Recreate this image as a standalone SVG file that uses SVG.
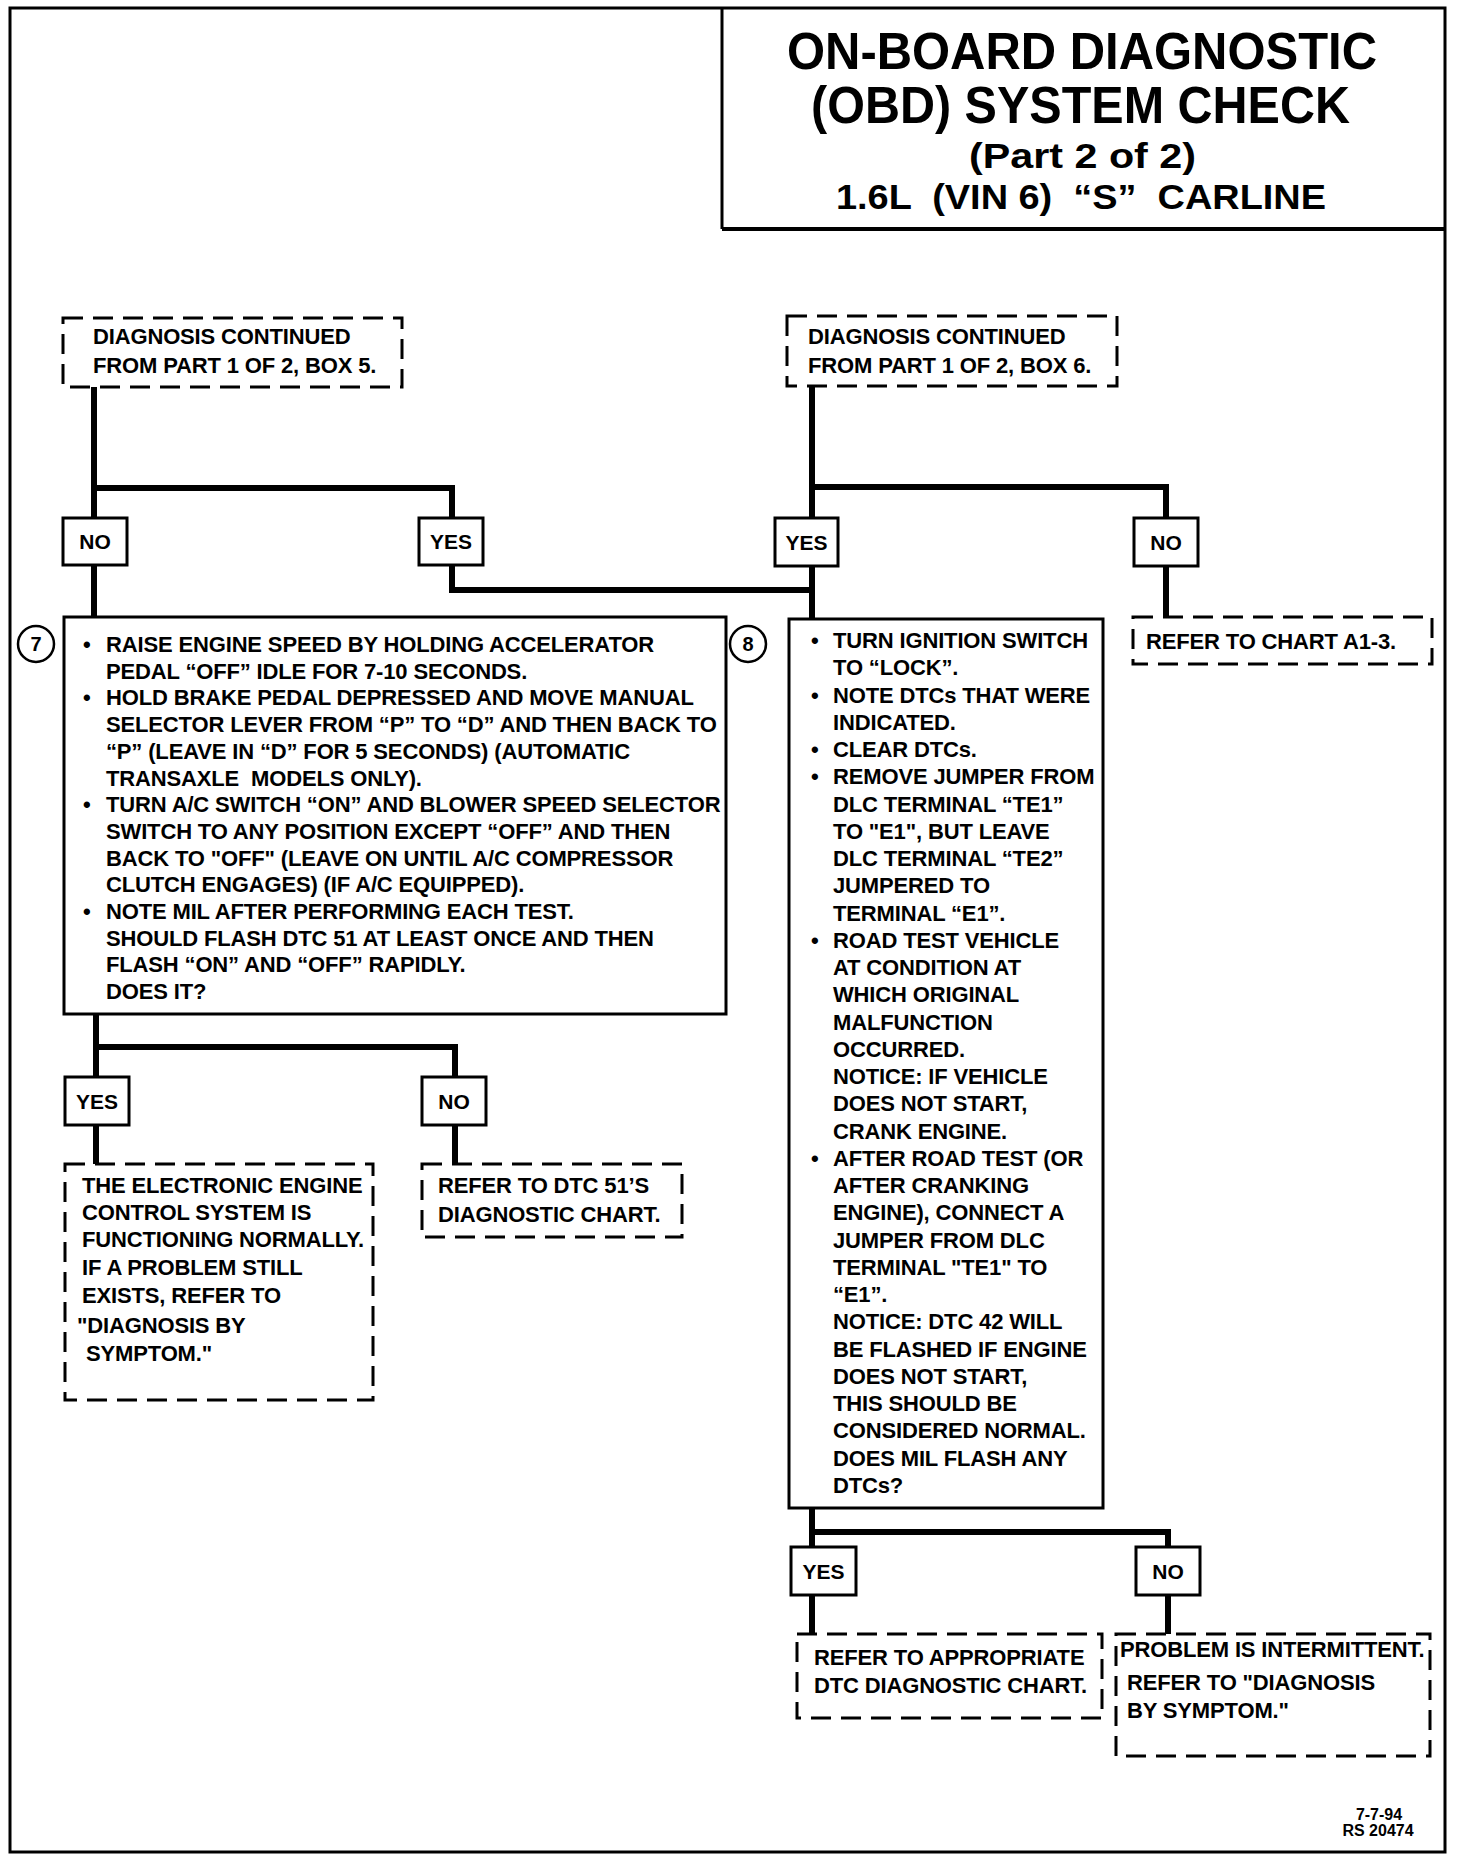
<svg xmlns="http://www.w3.org/2000/svg" width="1472" height="1864" viewBox="0 0 1472 1864">
<style>
.t{font-family:"Liberation Sans",Arial,sans-serif;font-weight:bold;font-size:22px;letter-spacing:-0.15px;fill:#000;white-space:pre}
.yn{font-family:"Liberation Sans",Arial,sans-serif;font-weight:bold;font-size:21px;fill:#000;text-anchor:middle}
.ttl{font-family:"Liberation Sans",Arial,sans-serif;font-weight:bold;fill:#000;white-space:pre}
.box{fill:#fff;stroke:#000;stroke-width:3}
.dash{fill:#fff;stroke:#000;stroke-width:3;stroke-dasharray:20 10}
.conn{fill:none;stroke:#000;stroke-width:6;stroke-linejoin:miter}
.circ{fill:#fff;stroke:#000;stroke-width:2.5}
.num{font-family:"Liberation Sans",Arial,sans-serif;font-weight:bold;font-size:20px;fill:#000;text-anchor:middle}
.ft{font-family:"Liberation Sans",Arial,sans-serif;font-weight:bold;font-size:16px;fill:#000;text-anchor:middle}
</style>
<rect x="0" y="0" width="1472" height="1864" fill="#fff"/>
<rect x="10" y="8" width="1435" height="1844" fill="none" stroke="#000" stroke-width="3"/>
<g id="title">
<line x1="722" y1="8" x2="722" y2="229" stroke="#000" stroke-width="3"/>
<line x1="722" y1="229" x2="1445" y2="229" stroke="#000" stroke-width="4"/>
<text class="ttl" x="787" y="69" font-size="52" textLength="590" lengthAdjust="spacingAndGlyphs">ON-BOARD DIAGNOSTIC</text>
<text class="ttl" x="811" y="123" font-size="52" textLength="539" lengthAdjust="spacingAndGlyphs">(OBD) SYSTEM CHECK</text>
<text class="ttl" x="969" y="168" font-size="35" textLength="227" lengthAdjust="spacingAndGlyphs">(Part 2 of 2)</text>
<text class="ttl" x="836" y="209" font-size="35" textLength="490" lengthAdjust="spacingAndGlyphs" xml:space="preserve">1.6L  (VIN 6)  “S”  CARLINE</text>
</g>
<g id="connectors">
<path class="conn" d="M94 386 V518"/>
<path class="conn" d="M94 488 H452 V518"/>
<path class="conn" d="M94 565 V617"/>
<path class="conn" d="M452 565 V590 H812"/>
<path class="conn" d="M812 386 V619"/>
<path class="conn" d="M812 487 H1166 V518"/>
<path class="conn" d="M1166 566 V618"/>
<path class="conn" d="M96 1014 V1164"/>
<path class="conn" d="M96 1047 H455 V1164"/>
<path class="conn" d="M812 1508 V1634"/>
<path class="conn" d="M812 1532 H1168 V1634"/>
</g>
<g id="boxA">
<rect class="dash" x="63" y="318" width="339" height="69"/>
<text class="t" x="93" y="344">DIAGNOSIS CONTINUED</text>
<text class="t" x="93" y="373">FROM PART 1 OF 2, BOX 5.</text>
</g>
<g id="boxB">
<rect class="dash" x="787" y="316" width="330" height="70"/>
<text class="t" x="808" y="344">DIAGNOSIS CONTINUED</text>
<text class="t" x="808" y="373">FROM PART 1 OF 2, BOX 6.</text>
</g>
<g id="noA"><rect class="box" x="63" y="518" width="64" height="47"/><text class="yn" x="95" y="549">NO</text></g>
<g id="yesA"><rect class="box" x="419" y="518" width="64" height="47"/><text class="yn" x="451" y="549">YES</text></g>
<g id="yesB"><rect class="box" x="775" y="518" width="63" height="48"/><text class="yn" x="806.5" y="550">YES</text></g>
<g id="noB"><rect class="box" x="1134" y="518" width="64" height="48"/><text class="yn" x="1166" y="550">NO</text></g>
<g id="refA13">
<rect class="dash" x="1133" y="617" width="299" height="47"/>
<text class="t" x="1146" y="649">REFER TO CHART A1-3.</text>
</g>
<g id="box7">
<circle class="circ" cx="36" cy="644" r="18"/>
<text class="num" x="36" y="651">7</text>
<rect class="box" x="64" y="617" width="662" height="397"/>
<text class="t" x="83" y="652">•</text>
<text class="t" x="106" y="652">RAISE ENGINE SPEED BY HOLDING ACCELERATOR</text>
<text class="t" x="106" y="678.7">PEDAL “OFF” IDLE FOR 7-10 SECONDS.</text>
<text class="t" x="83" y="705.4">•</text>
<text class="t" x="106" y="705.4">HOLD BRAKE PEDAL DEPRESSED AND MOVE MANUAL</text>
<text class="t" x="106" y="732.1">SELECTOR LEVER FROM “P” TO “D” AND THEN BACK TO</text>
<text class="t" x="106" y="758.8">“P” (LEAVE IN “D” FOR 5 SECONDS) (AUTOMATIC</text>
<text class="t" x="106" y="785.5" xml:space="preserve">TRANSAXLE  MODELS ONLY).</text>
<text class="t" x="83" y="812.2">•</text>
<text class="t" x="106" y="812.2">TURN A/C SWITCH “ON” AND BLOWER SPEED SELECTOR</text>
<text class="t" x="106" y="838.9">SWITCH TO ANY POSITION EXCEPT “OFF” AND THEN</text>
<text class="t" x="106" y="865.6">BACK TO "OFF" (LEAVE ON UNTIL A/C COMPRESSOR</text>
<text class="t" x="106" y="892.3">CLUTCH ENGAGES) (IF A/C EQUIPPED).</text>
<text class="t" x="83" y="919">•</text>
<text class="t" x="106" y="919">NOTE MIL AFTER PERFORMING EACH TEST.</text>
<text class="t" x="106" y="945.7">SHOULD FLASH DTC 51 AT LEAST ONCE AND THEN</text>
<text class="t" x="106" y="972.4">FLASH “ON” AND “OFF” RAPIDLY.</text>
<text class="t" x="106" y="999.1">DOES IT?</text>
</g>
<g id="box8">
<circle class="circ" cx="748" cy="644" r="18"/>
<text class="num" x="748" y="651">8</text>
<rect class="box" x="789" y="619" width="314" height="889"/>
<text class="t" x="811" y="648">•</text>
<text class="t" x="833" y="648">TURN IGNITION SWITCH</text>
<text class="t" x="833" y="675.25">TO “LOCK”.</text>
<text class="t" x="811" y="702.5">•</text>
<text class="t" x="833" y="702.5">NOTE DTCs THAT WERE</text>
<text class="t" x="833" y="729.75">INDICATED.</text>
<text class="t" x="811" y="757">•</text>
<text class="t" x="833" y="757">CLEAR DTCs.</text>
<text class="t" x="811" y="784.25">•</text>
<text class="t" x="833" y="784.25">REMOVE JUMPER FROM</text>
<text class="t" x="833" y="811.5">DLC TERMINAL “TE1”</text>
<text class="t" x="833" y="838.75">TO "E1", BUT LEAVE</text>
<text class="t" x="833" y="866">DLC TERMINAL “TE2”</text>
<text class="t" x="833" y="893.25">JUMPERED TO</text>
<text class="t" x="833" y="920.5">TERMINAL “E1”.</text>
<text class="t" x="811" y="947.75">•</text>
<text class="t" x="833" y="947.75">ROAD TEST VEHICLE</text>
<text class="t" x="833" y="975">AT CONDITION AT</text>
<text class="t" x="833" y="1002.25">WHICH ORIGINAL</text>
<text class="t" x="833" y="1029.5">MALFUNCTION</text>
<text class="t" x="833" y="1056.75">OCCURRED.</text>
<text class="t" x="833" y="1084">NOTICE: IF VEHICLE</text>
<text class="t" x="833" y="1111.25">DOES NOT START,</text>
<text class="t" x="833" y="1138.5">CRANK ENGINE.</text>
<text class="t" x="811" y="1165.75">•</text>
<text class="t" x="833" y="1165.75">AFTER ROAD TEST (OR</text>
<text class="t" x="833" y="1193">AFTER CRANKING</text>
<text class="t" x="833" y="1220.25">ENGINE), CONNECT A</text>
<text class="t" x="833" y="1247.5">JUMPER FROM DLC</text>
<text class="t" x="833" y="1274.75">TERMINAL "TE1" TO</text>
<text class="t" x="833" y="1302">“E1”.</text>
<text class="t" x="833" y="1329.25">NOTICE: DTC 42 WILL</text>
<text class="t" x="833" y="1356.5">BE FLASHED IF ENGINE</text>
<text class="t" x="833" y="1383.75">DOES NOT START,</text>
<text class="t" x="833" y="1411">THIS SHOULD BE</text>
<text class="t" x="833" y="1438.25">CONSIDERED NORMAL.</text>
<text class="t" x="833" y="1465.5">DOES MIL FLASH ANY</text>
<text class="t" x="833" y="1492.75">DTCs?</text>
</g>
<g id="yesC"><rect class="box" x="65" y="1077" width="64" height="48"/><text class="yn" x="97" y="1109">YES</text></g>
<g id="noC"><rect class="box" x="422" y="1077" width="64" height="48"/><text class="yn" x="454" y="1109">NO</text></g>
<g id="normal">
<rect class="dash" x="65" y="1164" width="308" height="236"/>
<text class="t" x="82" y="1193">THE ELECTRONIC ENGINE</text>
<text class="t" x="82" y="1220">CONTROL SYSTEM IS</text>
<text class="t" x="82" y="1247">FUNCTIONING NORMALLY.</text>
<text class="t" x="82" y="1275">IF A PROBLEM STILL</text>
<text class="t" x="82" y="1303">EXISTS, REFER TO</text>
<text class="t" x="77" y="1333">"DIAGNOSIS BY</text>
<text class="t" x="86" y="1361">SYMPTOM."</text>
</g>
<g id="dtc51">
<rect class="dash" x="422" y="1164" width="260" height="73"/>
<text class="t" x="438" y="1193">REFER TO DTC 51’S</text>
<text class="t" x="438" y="1222">DIAGNOSTIC CHART.</text>
</g>
<g id="yesD"><rect class="box" x="791" y="1547" width="65" height="48"/><text class="yn" x="823.5" y="1579">YES</text></g>
<g id="noD"><rect class="box" x="1136" y="1547" width="64" height="48"/><text class="yn" x="1168" y="1579">NO</text></g>
<g id="appropriate">
<rect class="dash" x="797" y="1634" width="305" height="84"/>
<text class="t" x="814" y="1665">REFER TO APPROPRIATE</text>
<text class="t" x="814" y="1693">DTC DIAGNOSTIC CHART.</text>
</g>
<g id="intermittent">
<rect class="dash" x="1116" y="1634" width="314" height="122"/>
<text class="t" x="1120" y="1657">PROBLEM IS INTERMITTENT.</text>
<text class="t" x="1127" y="1690">REFER TO "DIAGNOSIS</text>
<text class="t" x="1127" y="1718">BY SYMPTOM."</text>
</g>
<g id="footer">
<text class="ft" x="1379" y="1820">7-7-94</text>
<text class="ft" x="1378" y="1836">RS 20474</text>
</g>
</svg>
